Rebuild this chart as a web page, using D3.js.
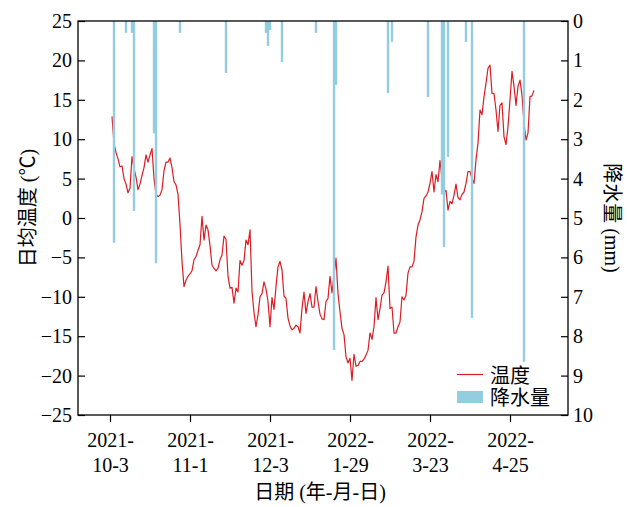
<!DOCTYPE html>
<html><head><meta charset="utf-8">
<script src="https://cdn.jsdelivr.net/npm/d3@7/dist/d3.min.js"></script>
<style>body{margin:0;background:#fff}</style>
</head><body>
<svg id="c" width="627" height="507"></svg>
<script>
// ---- data ----
const temps = [12.9,9.5,8.3,7.5,6.5,6.6,5.0,4.3,3.2,3.8,7.8,6.3,5.2,3.6,4.3,5.4,6.4,8.0,7.1,8.0,
8.8,5.0,3.0,2.7,2.9,3.6,6.0,7.1,7.1,7.6,6.4,4.6,4.2,3.0,-0.8,-5.5,-8.7,-7.9,-7.4,-7.1,
-6.7,-5.3,-4.9,-4.1,-3.4,0.2,-2.8,-0.9,-1.5,-3.5,-6.0,-6.4,-6.7,-6.4,-5.3,-4.7,-2.3,-2.7,-7.4,-8.9,
-8.8,-10.8,-8.9,-9.4,-5.4,-6.0,-5.4,-2.8,-3.4,-1.5,-9.3,-12.0,-13.8,-12.3,-10.0,-9.6,-8.1,-9.0,-10.6,-13.8,
-10.1,-11.6,-8.7,-6.2,-5.5,-6.6,-9.9,-10.2,-12.7,-13.7,-14.2,-14.0,-13.6,-13.8,-14.6,-11.5,-9.4,-12.1,-10.6,-9.6,
-11.3,-11.3,-8.7,-10.6,-12.2,-12.8,-12.9,-10.6,-10.2,-7.4,-9.5,-7.3,-5.1,-9.6,-11.9,-14.0,-14.8,-17.6,-18.4,-17.8,
-20.6,-17.3,-18.8,-18.7,-18.2,-18.2,-17.9,-17.4,-16.8,-14.6,-15.4,-13.8,-10.1,-12.9,-11.5,-9.8,-9.5,-8.1,-6.1,-11.5,
-11.3,-14.6,-14.6,-13.8,-13.2,-10.0,-10.4,-9.8,-7.0,-6.2,-6.2,-5.5,-2.4,-0.9,-0.25,0.8,2.5,2.8,3.3,4.4,
5.9,3.3,5.5,4.6,7.3,5.0,3.2,3.5,1.0,2.1,1.8,2.9,4.3,2.6,2.3,3.0,3.3,4.4,5.9,5.9,
5.0,4.4,7.4,9.5,13.7,13.1,15.4,17.1,19.0,19.4,15.8,15.8,13.7,11.0,14.3,14.6,10.3,9.3,11.6,15.0,
18.6,16.7,14.3,16.7,17.5,15.6,12.0,9.9,10.8,15.4,15.5,16.2];
const rainIdx = [1,7,10,11,21,22,34,57,77,78,79,85,102,111,112,138,140,158,165,166,168,177,180,206];
const rainMm  = [5.63,0.3,0.3,4.82,2.85,6.15,0.3,1.32,0.3,0.63,0.23,1.04,0.3,8.35,1.62,1.83,0.53,1.93,4.4,5.74,3.45,0.53,7.54,8.65];
const tickIdx = [-1,39,79,119,159,199];
const tickYear = ["2021-","2021-","2021-","2022-","2022-","2022-"];
const tickDay = ["10-3","11-1","12-3","1-29","3-23","4-25"];
const tempTicks = [-25,-20,-15,-10,-5,0,5,10,15,20,25];
const rainTicks = [0,1,2,3,4,5,6,7,8,9,10];
const labels = {x:"日期 (年-月-日)", yl:"日均温度 (℃)", yr:"降水量 (mm)", lt:"温度", lr:"降水量"};

// ---- layout ----
const L=78,R=568,T=21,B=415;
const FONT="'Liberation Serif','Noto Sans CJK SC',serif";
const RED="#dc1c24", BLUE="#92cde0";
const svg=d3.select("#c");
svg.append("rect").attr("width",627).attr("height",507).attr("fill","#fff");

const x=d3.scaleLinear().domain([-17,228]).range([L,R]);
const yT=d3.scaleLinear().domain([-25,25]).range([B,T]);
const yP=d3.scaleLinear().domain([0,10]).range([T,B]);

// line
svg.append("path").datum(temps)
  .attr("d",d3.line().x((d,i)=>x(i)).y(d=>yT(d)))
  .attr("fill","none").attr("stroke",RED).attr("stroke-width",1.2).attr("stroke-linejoin","round");

// bars
svg.append("g").selectAll("rect").data(rainIdx).join("rect")
  .attr("x",d=>x(d)-1.2).attr("width",2.4)
  .attr("y",yP(0)).attr("height",(d,k)=>yP(rainMm[k])-yP(0))
  .attr("fill",BLUE);

// axes
const gl=svg.append("g").attr("transform",`translate(${L},0)`)
  .call(d3.axisLeft(yT).tickValues(tempTicks).tickSize(-7).tickPadding(6)
    .tickFormat(d=>d<0?"\u2212"+Math.abs(d):d));
const gr=svg.append("g").attr("transform",`translate(${R},0)`)
  .call(d3.axisRight(yP).tickValues(rainTicks).tickSize(-7).tickPadding(5));
const gb=svg.append("g").attr("transform",`translate(0,${B})`)
  .call(d3.axisBottom(x).tickValues(tickIdx).tickSize(7).tickFormat(""));
[gl,gr,gb].forEach(g=>{
  g.select(".domain").remove();
  g.selectAll("line").attr("stroke","#000").attr("stroke-width",1.2);
  g.selectAll("text").attr("font-family",FONT).attr("font-size",20).attr("fill","#000");
});
gb.selectAll(".tick").each(function(d,k){
  const t=d3.select(this).append("text").attr("font-family",FONT).attr("font-size",20)
    .attr("fill","#000").attr("text-anchor","middle");
  t.append("tspan").attr("x",0).attr("y",32).text(tickYear[k]);
  t.append("tspan").attr("x",0).attr("y",57).text(tickDay[k]);
});

// frame
svg.append("rect").attr("x",L).attr("y",T).attr("width",R-L).attr("height",B-T)
  .attr("fill","none").attr("stroke","#000").attr("stroke-width",1.3);

// titles
svg.append("text").attr("transform","translate(320,499)").attr("text-anchor","middle")
  .attr("font-family",FONT).attr("font-size",20).text(labels.x);
svg.append("text").attr("transform","translate(35,208) rotate(-90)").attr("text-anchor","middle")
  .attr("font-family",FONT).attr("font-size",20).text(labels.yl);
svg.append("text").attr("transform","translate(605,218) rotate(90)").attr("text-anchor","middle")
  .attr("font-family",FONT).attr("font-size",20).text(labels.yr);

// legend
svg.append("line").attr("x1",457).attr("x2",483).attr("y1",374.5).attr("y2",374.5)
  .attr("stroke",RED).attr("stroke-width",1.2);
svg.append("rect").attr("x",457).attr("y",391).attr("width",26).attr("height",12).attr("fill",BLUE);
svg.append("text").attr("x",490).attr("y",376).attr("dominant-baseline","central")
  .attr("font-family",FONT).attr("font-size",20).text(labels.lt);
svg.append("text").attr("x",490).attr("y",397.5).attr("dominant-baseline","central")
  .attr("font-family",FONT).attr("font-size",20).text(labels.lr);
</script>
</body></html>
